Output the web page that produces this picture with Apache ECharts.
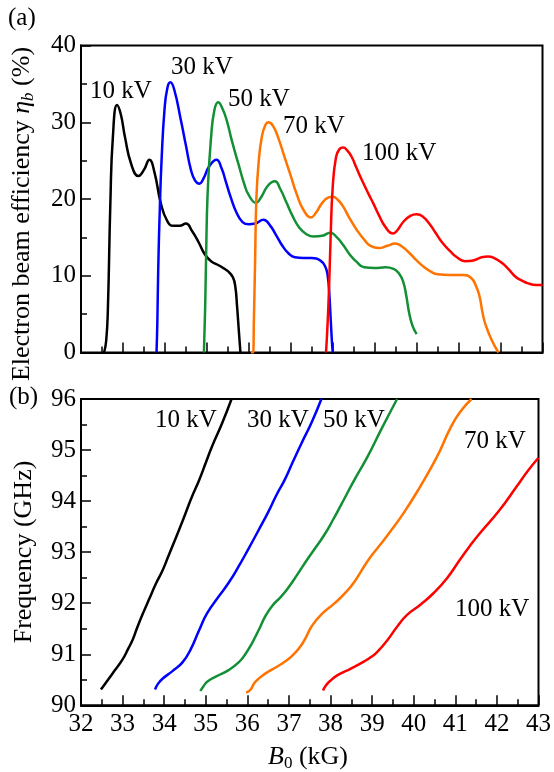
<!DOCTYPE html>
<html>
<head>
<meta charset="utf-8">
<script src="https://cdn.jsdelivr.net/npm/echarts@6/dist/echarts.min.js"></script>
<style>
html,body{margin:0;padding:0;background:#fff;}
#c{width:554px;height:772px;}
</style>
</head>
<body>
<div id="c"></div>
<script>
// ---- Data: panel (a) electron beam efficiency (%) vs B0 (kG) ----
const eff10 = [[32.55,0],[32.6,1.5],[32.64,5.5],[32.7,19.5],[32.76,28.1],[32.86,32.25],[32.95,31],[33.05,28],[33.2,24.5],[33.37,23.0],[33.5,23.8],[33.63,25.1],[33.75,23.5],[33.9,19.5],[34.05,17.2],[34.2,16.5],[34.35,16.5],[34.5,16.8],[34.65,15.8],[34.8,14.4],[34.95,12.8],[35.1,11.9],[35.3,11.3],[35.5,10.6],[35.62,9.8],[35.68,8.5],[35.72,6],[35.76,3],[35.8,0]];
const eff30 = [[33.8,0],[33.82,4],[33.84,10.7],[33.88,19],[33.92,25],[33.99,31.6],[34.06,34.5],[34.13,35.2],[34.22,34.3],[34.38,30.3],[34.5,27],[34.62,23.8],[34.72,22.4],[34.82,22.0],[34.93,22.8],[35.05,24.2],[35.23,25.1],[35.35,24],[35.45,22.3],[35.57,20.2],[35.7,18.3],[35.85,17.0],[36.0,16.7],[36.15,16.8],[36.35,17.3],[36.5,16.6],[36.65,15.3],[36.8,13.9],[36.95,12.9],[37.1,12.4],[37.3,12.3],[37.5,12.3],[37.7,12.0],[37.82,11.2],[37.88,10.0],[37.92,7.5],[37.95,4.5],[37.98,1.5],[38.0,0]];
const eff50 = [[34.93,0],[34.96,6],[34.98,12],[35.02,21],[35.1,28],[35.18,31.6],[35.27,32.6],[35.37,31.8],[35.47,30.3],[35.6,27.5],[35.75,24.6],[35.9,21.8],[36.0,20.5],[36.17,19.5],[36.3,20.3],[36.45,21.7],[36.62,22.3],[36.75,21.3],[36.9,19.5],[37.05,17.7],[37.2,16.3],[37.35,15.5],[37.55,15.1],[37.75,15.2],[37.94,15.6],[38.1,15.0],[38.25,14.0],[38.4,12.8],[38.57,11.8],[38.75,11.1],[39.0,11.0],[39.25,11.1],[39.45,10.9],[39.58,10.3],[39.68,9.2],[39.75,7.5],[39.82,5.2],[39.9,3.5],[40.0,2.4]];
const eff70 = [[36.05,0],[36.1,0],[36.12,4],[36.15,12],[36.18,20],[36.23,24.5],[36.31,28.1],[36.4,29.7],[36.47,30.0],[36.58,29.5],[36.7,28.0],[36.85,25.5],[37.0,23.0],[37.15,20.5],[37.3,18.6],[37.48,17.6],[37.6,18.2],[37.75,19.5],[37.9,20.2],[38.0,20.3],[38.12,19.9],[38.25,19.0],[38.4,17.5],[38.57,16.0],[38.75,14.7],[38.9,13.9],[39.1,13.6],[39.3,13.9],[39.49,14.2],[39.65,13.8],[39.84,12.9],[40.0,12.0],[40.16,11.2],[40.35,10.5],[40.5,10.2],[40.8,10.1],[41.1,10.1],[41.3,9.7],[41.42,8.6],[41.5,7.3],[41.57,5.2],[41.65,3.5],[41.8,1.5],[41.95,0]];
const eff100 = [[37.84,0],[37.87,2.9],[37.91,8],[37.95,15],[38.0,21.6],[38.08,25.5],[38.16,26.5],[38.25,26.7],[38.35,26.3],[38.45,25.5],[38.57,24],[38.7,22.4],[38.85,20.7],[38.97,19.4],[39.1,17.9],[39.25,16.4],[39.44,15.5],[39.55,16.0],[39.68,17.0],[39.85,17.8],[40.0,18.0],[40.15,17.7],[40.3,16.8],[40.45,15.6],[40.6,14.4],[40.8,13.2],[40.96,12.4],[41.15,11.9],[41.35,12.0],[41.55,12.4],[41.7,12.5],[41.85,12.3],[42.05,11.6],[42.2,10.8],[42.35,9.9],[42.5,9.4],[42.66,9.0],[42.85,8.8],[43.0,8.8]];

// ---- Data: panel (b) frequency (GHz) vs B0 (kG) ----
const freq10 = [[32.48,90.31],[32.65,90.5],[32.8,90.67],[33.0,90.9],[33.13,91.1],[33.25,91.3],[33.35,91.52],[33.5,91.82],[33.65,92.1],[33.8,92.38],[33.96,92.64],[34.1,92.92],[34.25,93.22],[34.48,93.69],[34.65,94.05],[34.84,94.41],[35.0,94.75],[35.15,95.07],[35.39,95.52],[35.62,96.0]];
const freq30 = [[33.78,90.31],[33.85,90.42],[33.96,90.52],[34.2,90.67],[34.44,90.84],[34.64,91.1],[34.84,91.47],[35.03,91.8],[35.31,92.13],[35.55,92.4],[35.79,92.72],[36.03,93.07],[36.25,93.4],[36.51,93.8],[36.7,94.12],[36.9,94.42],[37.1,94.78],[37.3,95.13],[37.55,95.55],[37.78,96.0]];
const freq50 = [[34.87,90.28],[34.95,90.38],[35.05,90.47],[35.24,90.56],[35.55,90.69],[35.79,90.84],[35.95,91.0],[36.1,91.2],[36.27,91.47],[36.43,91.74],[36.6,91.95],[36.8,92.12],[36.98,92.3],[37.2,92.56],[37.46,92.88],[37.65,93.1],[37.86,93.35],[38.05,93.62],[38.25,93.92],[38.57,94.41],[38.89,94.87],[39.21,95.39],[39.6,96.0]];
const freq70 = [[35.97,90.25],[36.07,90.3],[36.19,90.46],[36.43,90.62],[36.74,90.77],[36.98,90.9],[37.15,91.03],[37.3,91.18],[37.42,91.35],[37.54,91.54],[37.78,91.78],[38.1,92.0],[38.41,92.25],[38.6,92.45],[38.73,92.62],[38.93,92.87],[39.15,93.1],[39.37,93.33],[39.76,93.77],[40.16,94.29],[40.56,94.87],[40.88,95.43],[41.11,95.74],[41.39,96.0]];
const freq100 = [[37.82,90.29],[37.88,90.38],[37.98,90.47],[38.17,90.59],[38.49,90.72],[38.81,90.86],[39.0,90.96],[39.13,91.05],[39.37,91.28],[39.6,91.54],[39.84,91.77],[40.16,91.97],[40.48,92.2],[40.8,92.49],[41.11,92.85],[41.35,93.12],[41.59,93.37],[42.07,93.83],[42.47,94.28],[42.75,94.6],[43.0,94.85]];

const seriesNames = ['10 kV','30 kV','50 kV','70 kV','100 kV'];
const colors = ['#000000','#0000ff','#139035','#ff7300','#ff0000'];
const effData = [eff10, eff30, eff50, eff70, eff100];
const freqData = [freq10, freq30, freq50, freq70, freq100];

const FONT = '"Liberation Serif","Times New Roman",serif';
const chart = echarts.init(document.getElementById('c'), null, {renderer:'canvas'});

function xAxisCfg(gridIndex, showLabels){
  return {
    type:'value', gridIndex, min:32, max:43, interval:1,
    axisLine:{show:true, onZero:false, lineStyle:{color:'#000', width:2}},
    axisTick:{show:true, inside:true, length:10, lineStyle:{color:'#000', width:1.5}},
    minorTick:{show:true, splitNumber:2, length:6, lineStyle:{color:'#000', width:1.5}},
    axisLabel:{show:showLabels, color:'#000', fontFamily:FONT, fontSize:25, margin:7},
    splitLine:{show:false}
  };
}
function yAxisCfg(gridIndex, min, max, interval){
  return {
    type:'value', gridIndex, min, max, interval,
    axisLine:{show:true, onZero:false, lineStyle:{color:'#000', width:2}},
    axisTick:{show:true, inside:true, length:10, lineStyle:{color:'#000', width:1.5}},
    minorTick:{show:true, splitNumber:2, length:6, lineStyle:{color:'#000', width:1.5}},
    axisLabel:{color:'#000', fontFamily:FONT, fontSize:25, margin:5},
    splitLine:{show:false}
  };
}

const series = [];
effData.forEach((d,i)=>{
  series.push({type:'line', name:seriesNames[i], xAxisIndex:0, yAxisIndex:0, data:d, showSymbol:false, smooth:0.5,
    lineStyle:{color:colors[i], width:2.5}, itemStyle:{color:colors[i]}, z:5+i});
});
freqData.forEach((d,i)=>{
  series.push({type:'line', name:seriesNames[i], xAxisIndex:1, yAxisIndex:1, data:d, showSymbol:false, smooth:0.5,
    lineStyle:{color:colors[i], width:2.5}, itemStyle:{color:colors[i]}, z:5+i});
});

function lbl(text, x, y){
  return {type:'text', x, y, style:{text, font:'25px '+FONT, fill:'#000', align:'left', verticalAlign:'middle'}, z:20};
}

chart.setOption({
  animation:false,
  backgroundColor:'#fff',
  grid:[
    {left:81, top:45.5, width:461.5, height:307, show:true, borderColor:'#000', borderWidth:2, backgroundColor:'transparent'},
    {left:81, top:399, width:461.5, height:306.3, show:true, borderColor:'#000', borderWidth:2, backgroundColor:'transparent'}
  ],
  xAxis:[xAxisCfg(0,false), xAxisCfg(1,true)],
  yAxis:[yAxisCfg(0,0,40,10), yAxisCfg(1,90,96,1)],
  series,
  graphic:[
    {type:'text', x:8, y:18, style:{text:'(a)', font:'25px '+FONT, fill:'#000', verticalAlign:'middle'}},
    {type:'text', x:9, y:397, style:{text:'(b)', font:'25px '+FONT, fill:'#000', verticalAlign:'middle'}},
    {type:'text', x:22, y:214, rotation:Math.PI/2,
      style:{text:'{n|Electron beam efficiency }{i|η}{s|b}{n| (%)}', align:'center', verticalAlign:'middle', fill:'#000',
        rich:{
          n:{fontFamily:FONT, fontSize:26, lineHeight:30, verticalAlign:'middle', fill:'#000'},
          i:{fontFamily:FONT, fontSize:26, fontStyle:'italic', lineHeight:30, verticalAlign:'middle', fill:'#000'},
          s:{fontFamily:FONT, fontSize:17, fontStyle:'italic', lineHeight:16, verticalAlign:'bottom', fill:'#000'}
        }}},
    {type:'text', x:24, y:552, rotation:Math.PI/2,
      style:{text:'Frequency (GHz)', font:'26px '+FONT, align:'center', verticalAlign:'middle', fill:'#000'}},
    {type:'text', x:308, y:757,
      style:{text:'{i|B}{s|0}{n| (kG)}', align:'center', verticalAlign:'middle', fill:'#000',
        rich:{
          n:{fontFamily:FONT, fontSize:26, lineHeight:30, verticalAlign:'middle', fill:'#000'},
          i:{fontFamily:FONT, fontSize:26, fontStyle:'italic', lineHeight:30, verticalAlign:'middle', fill:'#000'},
          s:{fontFamily:FONT, fontSize:17, lineHeight:16, verticalAlign:'bottom', fill:'#000'}
        }}},
    lbl('10 kV', 90, 91),
    lbl('30 kV', 171, 67),
    lbl('50 kV', 228, 99),
    lbl('70 kV', 283, 126),
    lbl('100 kV', 362, 153),
    lbl('10 kV', 155, 420),
    lbl('30 kV', 247, 420),
    lbl('50 kV', 323, 420),
    lbl('70 kV', 464, 441),
    lbl('100 kV', 455, 609)
  ]
});
</script>
</body>
</html>
